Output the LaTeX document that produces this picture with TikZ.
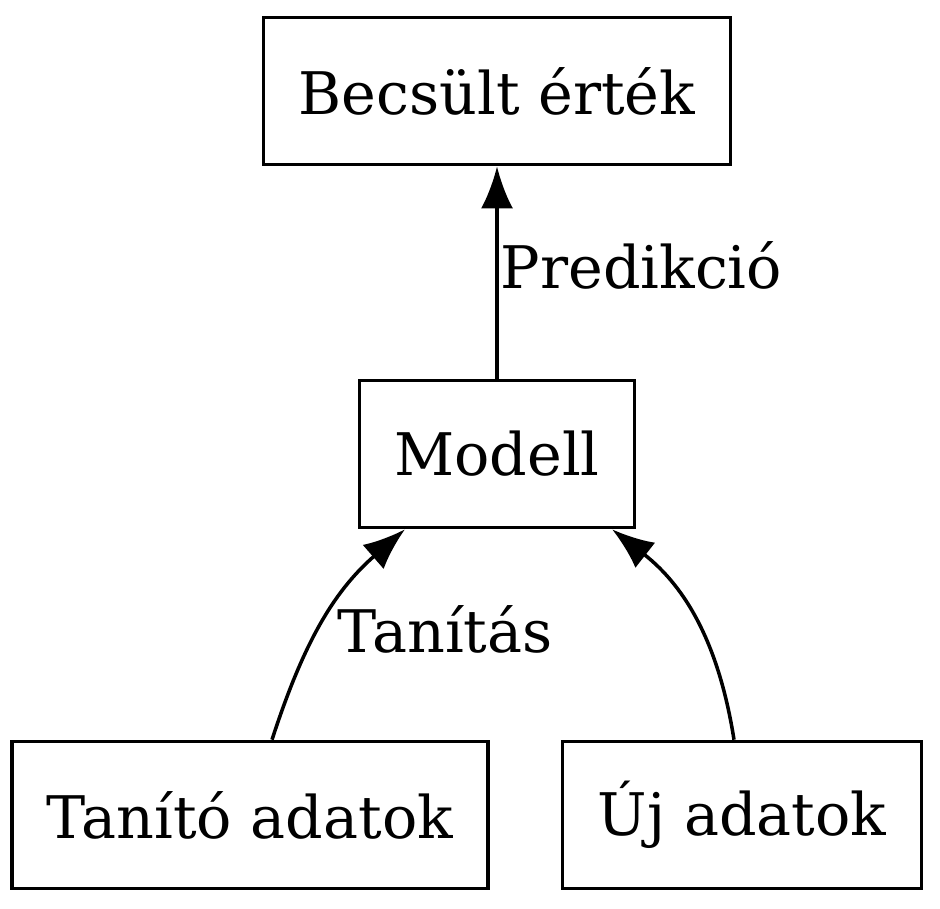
\documentclass[tikz,border=0pt]{standalone}
\usepackage{fontspec}
\setmainfont{DejaVu Serif}
\usetikzlibrary{arrows.meta}

\begin{document}
\begin{tikzpicture}[x=0.01cm,y=-0.01cm,
    box/.style={draw,line width=1pt,minimum height=1.47cm,inner xsep=0.35cm,
        font=\fontsize{16.7}{20}\selectfont},
    lbl/.style={inner sep=0pt,font=\fontsize{16.7}{20}\selectfont},
    flow/.style={line width=1pt,-{Latex[length=0.42cm,width=0.32cm]}}]
            \useasboundingbox (0,0) rectangle (940,908);

            % Nodes
            \node[box] (result) at (497,91) {Becsült érték};
            \node[box] (model) at (497,454) {Modell};
            \node[box] (train) at (250,815) {Tanító adatok};
            \node[box] (new) at (742,815) {Új adatok};

            % Edges
            \draw[flow] (model) -- (result);
            \draw[flow] ([xshift=0.22cm]train.north) to[out=72,in=221] ([xshift=-0.92cm]model.south);
            \draw[flow] ([xshift=-0.08cm]new.north) to[out=99,in=322] ([xshift=1.15cm]model.south);

            % Labels
            \node[lbl,anchor=base west] (predlbl) at (500,288) {Predikció};
            \node[lbl,anchor=base west] (trainlbl) at (337,652) {Tanítás};
\end{tikzpicture}
\end{document}
